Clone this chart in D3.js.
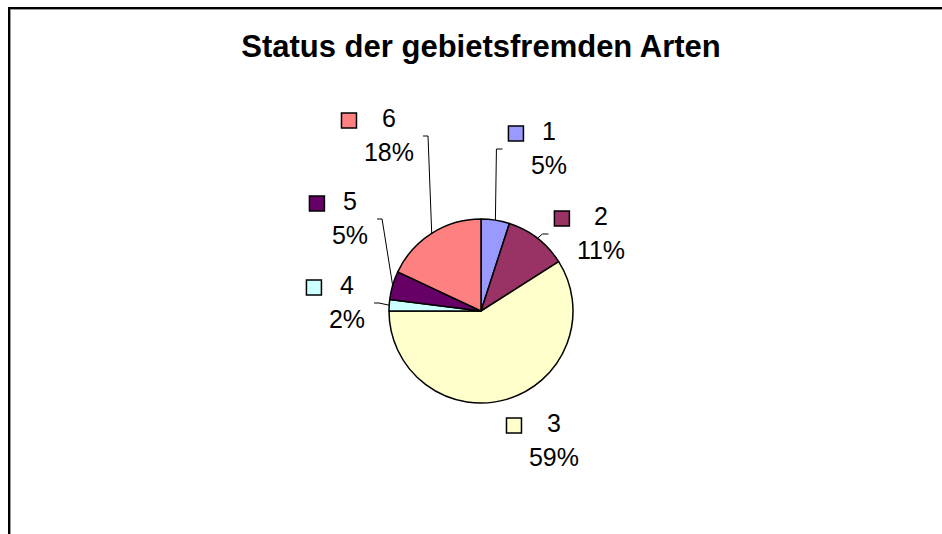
<!DOCTYPE html>
<html>
<head>
<meta charset="utf-8">
<script src="https://cdn.jsdelivr.net/npm/d3@7"></script>
<style>
  html, body { margin: 0; padding: 0; background: #fff; }
  svg { display: block; }
  text { font-family: "Liberation Sans", Arial, sans-serif; fill: #000; }
</style>
</head>
<body>
<svg id="chart" width="942" height="534"></svg>
<script>
// ---- data ----
const title = "Status der gebietsfremden Arten";
const categories = ["1", "2", "3", "4", "5", "6"];
const values = [5, 11, 59, 2, 5, 18];
const colors = ["#9999FF", "#993366", "#FFFFCC", "#CCFFFF", "#660066", "#FF8080"];

// ---- layout (label anchor: percent-text centre x, first-line baseline y) ----
const labelAnchors = [
  { x: 549, y: 140, leader: true },
  { x: 601, y: 225, leader: true },
  { x: 554, y: 432, leader: false },
  { x: 347, y: 294, leader: true },
  { x: 350, y: 210, leader: true },
  { x: 389, y: 127, leader: true }
];
const W = 942, H = 534;
const cx = 481, cy = 311, R = 92;
const fontSize = 25, lineGap = 34, keySize = 15;

const svg = d3.select("#chart");
svg.append("rect").attr("width", W).attr("height", H).attr("fill", "#fff");

// frame
svg.append("rect").attr("x", 9).attr("y", 8).attr("width", 2000).attr("height", 2000)
  .attr("fill", "none").attr("stroke", "#000").attr("stroke-width", 2);
svg.append("line").attr("x1", 10.5).attr("x2", 10.5).attr("y1", 9).attr("y2", H)
  .attr("stroke", "#999").attr("stroke-width", 1);
svg.append("line").attr("x1", 10).attr("x2", W).attr("y1", 9.5).attr("y2", 9.5)
  .attr("stroke", "#999").attr("stroke-width", 1);

// title
svg.append("text").attr("x", cx).attr("y", 57).attr("text-anchor", "middle")
  .attr("font-size", 31).attr("font-weight", "bold")
  .text(title);

const total = d3.sum(values);
const pie = d3.pie().sort(null).value(d => d)(values);
const arc = d3.arc().innerRadius(0).outerRadius(R);
const pct = d3.format(".0%");

const g = svg.append("g").attr("transform", `translate(${cx},${cy})`);
g.selectAll("path").data(pie).enter().append("path")
  .attr("d", arc)
  .attr("fill", (d, i) => colors[i])
  .attr("stroke", "#000").attr("stroke-width", 1.5).attr("stroke-linejoin", "round");

// labels
pie.forEach((d, i) => {
  const a = labelAnchors[i];
  const lg = svg.append("g");
  lg.append("text").attr("x", a.x).attr("y", a.y).attr("text-anchor", "middle")
    .attr("font-size", fontSize).text(categories[i]);
  const pt = lg.append("text").attr("x", a.x).attr("y", a.y + lineGap).attr("text-anchor", "middle")
    .attr("font-size", fontSize).text(pct(values[i] / total));
  const pw = pt.node().getComputedTextLength();
  const pLeft = a.x - pw / 2, pRight = a.x + pw / 2;
  const kx = pLeft - 15 - keySize / 2, ky = a.y - 6.5 - keySize / 2;
  lg.append("rect").attr("x", kx).attr("y", ky).attr("width", keySize).attr("height", keySize)
    .attr("fill", colors[i]).attr("stroke", "#000").attr("stroke-width", 1.5);

  if (a.leader) {
    const mid = (d.startAngle + d.endAngle) / 2;
    const ex = cx + R * Math.sin(mid), ey = cy - R * Math.cos(mid);
    const ly = a.y + 9;
    let endX, bendX;
    if (mid < Math.PI) { endX = kx - 6; bendX = endX - 6; }
    else { endX = pRight + 9; bendX = endX + 5; }
    svg.append("polyline")
      .attr("points", [[ex, ey], [bendX, ly], [endX, ly]].map(p => p.join(",")).join(" "))
      .attr("fill", "none").attr("stroke", "#000").attr("stroke-width", 1);
  }
});
</script>
</body>
</html>
